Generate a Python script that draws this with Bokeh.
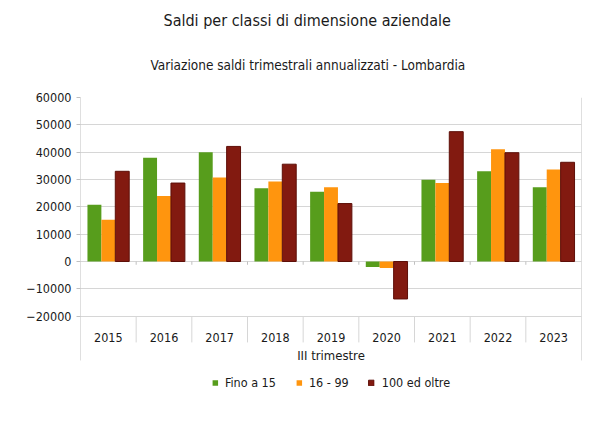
from bokeh.plotting import figure
from bokeh.models import Range1d, FixedTicker, Title, Legend, LegendItem
from bokeh.core.properties import value
from bokeh.embed import file_html
from bokeh.resources import INLINE

FONT = "DejaVu Sans Condensed"

years = ["2015", "2016", "2017", "2018", "2019", "2020", "2021", "2022", "2023"]
series_names = ["Fino a 15", "16 - 99", "100 ed oltre"]
fino_a_15 = [20800, 38000, 40000, 26800, 25500, -2000, 29900, 33000, 27200]
da_16_a_99 = [15300, 24000, 30700, 29300, 27200, -2400, 28700, 41100, 33700]
oltre_100 = [33000, 28700, 42100, 35600, 21200, -13700, 47500, 39800, 36300]
y_ticks = [-20000, -10000, 0, 10000, 20000, 30000, 40000, 50000, 60000]
axis_title = "III trimestre"
title_text = "Saldi per classi di dimensione aziendale"
subtitle_text = "Variazione saldi trimestrali annualizzati - Lombardia"
colors = ["#579d1c", "#ff950e", "#821a10"]
edge_colors = [None, None, "#5e0f08"]

n = len(years)
y_min_tick = y_ticks[0]
y_top = y_ticks[-1]
y_frame_bottom = -55600     # frame extends below to host labels and legend
y_box_bottom = -36200       # bottom of category label box

p = figure(width=610, height=431, output_backend="svg", toolbar_location=None,
           x_range=Range1d(0, n), y_range=Range1d(y_frame_bottom, y_top),
           min_border_left=80, min_border_right=29, min_border_top=97,
           min_border_bottom=18)
p.outline_line_color = None
p.background_fill_color = "white"
p.border_fill_color = "white"

# gridlines / axes
p.xaxis.visible = False
p.xgrid.visible = False
p.ygrid.ticker = FixedTicker(ticks=y_ticks)
p.ygrid.grid_line_color = "#d6d6d6"
p.yaxis.ticker = FixedTicker(ticks=y_ticks)
p.yaxis.axis_line_color = None
p.yaxis.major_tick_line_color = "#c0c0c0"
p.yaxis.major_tick_in = 0
p.yaxis.major_tick_out = 4
p.yaxis.minor_tick_line_color = None
p.yaxis.major_label_text_font = FONT
p.yaxis.major_label_text_font_size = "12.5px"
p.yaxis.major_label_text_color = "#1a1a1a"
p.yaxis.major_label_standoff = 5

# bars
offsets = [-0.25, 0.0, 0.25]
renderers = []
for vals, off, col, ec in zip([fino_a_15, da_16_a_99, oltre_100], offsets,
                              colors, edge_colors):
    xs = [i + 0.5 + off for i in range(n)]
    r = p.vbar(x=xs, top=vals, bottom=0, width=0.25, fill_color=col,
               line_color=ec, line_width=1)
    renderers.append(r)

# left / right borders and category separators
p.segment(x0=[0, n], y0=[y_top, y_top], x1=[0, n], y1=[y_box_bottom] * 2,
          line_color="#c0c0c0", line_width=1)
label_y = -27800
group_y = -34400
sep_bottom = -29600
inner = list(range(1, n))
p.segment(x0=inner, y0=[y_min_tick] * len(inner), x1=inner,
          y1=[sep_bottom] * len(inner), line_color="#d6d6d6", line_width=1)
p.segment(x0=inner, y0=[0] * len(inner), x1=inner,
          y1=[-1200] * len(inner), line_color="#c0c0c0", line_width=1)

# category labels
p.text(x=[i + 0.5 for i in range(n)], y=[label_y] * n, text=years,
       text_font=value(FONT), text_font_size="12.5px", text_align="center",
       text_baseline="middle", text_color="#1a1a1a")
p.text(x=[n / 2], y=[group_y], text=[axis_title],
       text_font=value(FONT), text_font_size="13px", text_align="center",
       text_baseline="middle", text_color="#1a1a1a")

# titles
sub = Title(text=subtitle_text, align="left", text_font=FONT,
            text_font_size="13.5px", text_font_style="normal",
            text_color="#1a1a1a", offset=70, standoff=50)
p.add_layout(sub, "above")
main = Title(text=title_text, align="left", text_font=FONT,
             text_font_size="16px", text_font_style="normal",
             text_color="#1a1a1a", offset=83, standoff=0)
p.add_layout(main, "above")

legend = Legend(items=[LegendItem(label=nm, renderers=[r])
                       for nm, r in zip(series_names, renderers)],
                orientation="horizontal", location="bottom_center",
                border_line_color=None, background_fill_alpha=0,
                label_text_font=FONT, label_text_font_size="12.5px",
                label_text_color="#1a1a1a",
                glyph_width=7, glyph_height=7, spacing=19,
                label_standoff=7, padding=4, margin=23)
p.add_layout(legend)

open("out.html", "w").write(file_html(p, INLINE))
